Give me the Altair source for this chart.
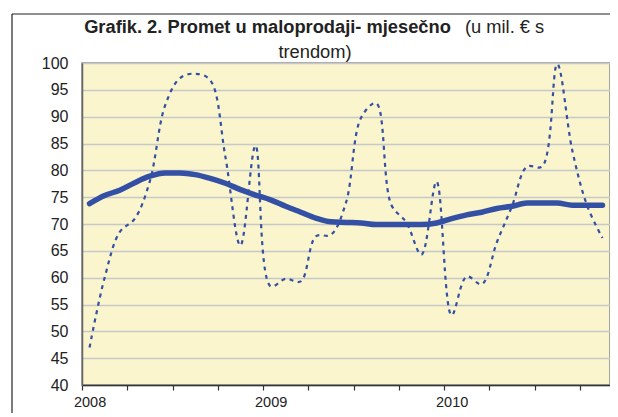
import altair as alt
import pandas as pd

# month index (0 = Jan 2008 ... 34 = Nov 2010)
months = list(range(35))
monthly = [47.0, 60.0, 68.5, 71.0, 78.0, 92.0, 97.2, 98.0, 96.8, 82.6,
           66.0, 84.6, 58.4, 59.8, 59.3, 67.7, 68.0, 74.0, 89.8, 92.5,
           73.6, 70.3, 64.3, 77.9, 53.0, 60.2, 58.8, 66.6, 73.3, 80.7,
           80.7, 99.8, 83.7, 73.3, 67.4]
trend = [73.8, 75.3, 76.3, 77.7, 78.9, 79.5, 79.5, 79.2, 78.5, 77.6,
         76.4, 75.4, 74.5, 73.3, 72.2, 71.1, 70.4, 70.3, 70.2, 69.9,
         69.9, 69.9, 69.9, 70.2, 71.0, 71.7, 72.2, 72.9, 73.3, 73.9,
         73.9, 73.9, 73.5, 73.5, 73.5]
year_start = 2008
y_ticks = list(range(40, 101, 5))
x_ticks = list(range(0, 35, 3))

title_bold = "Grafik. 2. Promet u maloprodaji- mjesečno"
title_norm1 = "(u mil. € s"
title_norm2 = "trendom)"

df = pd.DataFrame({"x": [m + 0.5 for m in months], "monthly": monthly, "trend": trend})

BLUE = "#3350A4"
FONT = "Liberation Sans"
W, H = 528, 322

xscale = alt.Scale(domain=[0, 35], nice=False, zero=False)
yscale = alt.Scale(domain=[40, 100], nice=False, zero=False)

x_axis = alt.Axis(values=x_ticks, title=None, grid=False,
                  labelExpr=f"datum.value % 12 == 0 ? toString({year_start} + datum.value/12) : ''",
                  labelOffset=7.6, labelFlush=False, labelOverlap=False,
                  tickSize=5, tickColor="#333333", tickWidth=1.2,
                  domainColor="#333333", domainWidth=1.5,
                  labelFontSize=14.5, labelFont=FONT, labelColor="#222222",
                  labelPadding=5)
y_axis = alt.Axis(values=y_ticks, title=None, ticks=False, labelPadding=14,
                  labelFontSize=16, labelFont=FONT, labelColor="#222222",
                  grid=True, gridColor="#C8C8C8", gridWidth=1.3,
                  domainColor="#666666", domainWidth=1.5)

dotted = alt.Chart(df).mark_line(
    color=BLUE, strokeWidth=2.2, strokeDash=[4, 4.5], interpolate="catmull-rom"
).encode(
    x=alt.X("x:Q", scale=xscale, axis=x_axis),
    y=alt.Y("monthly:Q", scale=yscale, axis=y_axis),
)

trend_line = alt.Chart(df).mark_line(
    color=BLUE, strokeWidth=5.5, interpolate="monotone", strokeCap="round"
).encode(
    x=alt.X("x:Q", scale=xscale, axis=x_axis),
    y=alt.Y("trend:Q", scale=yscale, axis=y_axis),
)

one = alt.Data(values=[{"a": 1}])

t1 = alt.Chart(one).mark_text(
    font=FONT, fontSize=18.3, fontWeight="bold", align="center", baseline="alphabetic", color="#222222"
).encode(x=alt.value(185.5), y=alt.value(-30), text=alt.value(title_bold))

t2 = alt.Chart(one).mark_text(
    font=FONT, fontSize=18.3, align="left", baseline="alphabetic", color="#222222"
).encode(x=alt.value(383), y=alt.value(-30), text=alt.value(title_norm1))

t3 = alt.Chart(one).mark_text(
    font=FONT, fontSize=18.3, align="center", baseline="alphabetic", color="#222222"
).encode(x=alt.value(233), y=alt.value(-5), text=alt.value(title_norm2))

frame_left = alt.Chart(one).mark_rule(color="#222222", strokeWidth=1.2).encode(
    x=alt.value(-70), y=alt.value(-49), y2=alt.value(400))
frame_top = alt.Chart(one).mark_rule(color="#222222", strokeWidth=1.2).encode(
    x=alt.value(-70), x2=alt.value(600), y=alt.value(-49))

chart = alt.layer(dotted, trend_line, t1, t2, t3, frame_left, frame_top).properties(
    width=W, height=H,
    autosize=alt.AutoSizeParams(type="none"),
    padding={"left": 74, "top": 55, "right": 0, "bottom": 28},
    background="white",
).configure_view(
    fill="#FAF5CC", stroke="#8A8A8A", strokeWidth=1.5
)

chart.save("out.html", embed_options={"renderer": "svg", "actions": False})
